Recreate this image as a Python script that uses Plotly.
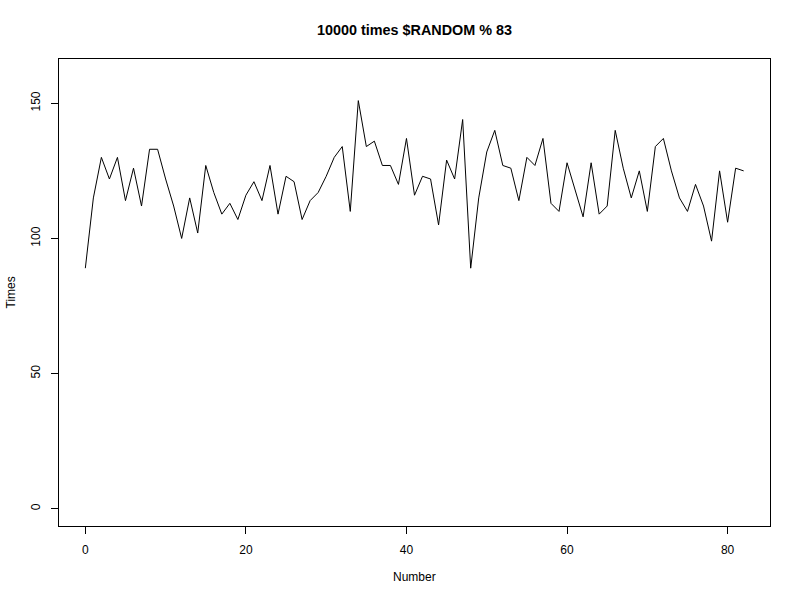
import plotly.graph_objects as go

numbers = list(range(0, 83))
times = [89, 115, 130, 122, 130, 114, 126, 112, 133, 133,
         122, 112, 100, 115, 102, 127, 117, 109, 113, 107,
         116, 121, 114, 127, 109, 123, 121, 107, 114, 117,
         123, 130, 134, 110, 151, 134, 136, 127, 127, 120,
         137, 116, 123, 122, 105, 129, 122, 144, 89, 115,
         132, 140, 127, 126, 114, 130, 127, 137, 113, 110,
         128, 118, 108, 128, 109, 112, 140, 126, 115, 125,
         110, 134, 137, 125, 115, 110, 120, 112, 99, 125,
         106, 126, 125]

x_ticks = [0, 20, 40, 60, 80]
y_ticks = [0, 50, 100, 150]

FONT = "Liberation Sans, Arial, sans-serif"

fig = go.Figure()
fig.add_trace(go.Scatter(x=numbers, y=times, mode="lines",
                         line=dict(color="black", width=1), showlegend=False,
                         hoverinfo="skip"))

axis_common = dict(showgrid=False, zeroline=False, showline=True, mirror=True,
                   linecolor="black", linewidth=1, ticks="outside", ticklen=7,
                   tickwidth=1, tickcolor="black",
                   tickfont=dict(family=FONT, size=12, color="black"))

W, H = 800, 600
fig.update_layout(
    width=W, height=H,
    margin=dict(l=59, r=W - 770, t=59, b=H - 526),
    paper_bgcolor="white", plot_bgcolor="white",
    title=dict(text="<b>10000 times $RANDOM % 83</b>", x=0.5, xref="paper",
               y=1 - 30 / H, yref="container", yanchor="middle", xanchor="center",
               font=dict(family=FONT, size=14.4, color="black")),
    xaxis=dict(range=[-3.28, 85.28], tickvals=x_ticks, ticklabelstandoff=6,
               **axis_common),
    yaxis=dict(range=[-6.4, 166.4], tickvals=y_ticks, tickangle=-90,
               ticklabelstandoff=6, **axis_common),
    annotations=[
        dict(text="Number", xref="paper", yref="paper", x=0.5,
             y=(526 - 577) / 467, xanchor="center", yanchor="middle",
             showarrow=False, font=dict(family=FONT, size=12, color="black")),
        dict(text="Times", xref="paper", yref="paper", x=(10 - 59) / 711,
             y=0.5, xanchor="center", yanchor="middle", textangle=-90,
             showarrow=False, font=dict(family=FONT, size=12, color="black")),
    ],
)

fig.write_html("out.html", config={"displayModeBar": False},
               post_script="document.body.style.margin='0';document.body.style.overflow='hidden';")
